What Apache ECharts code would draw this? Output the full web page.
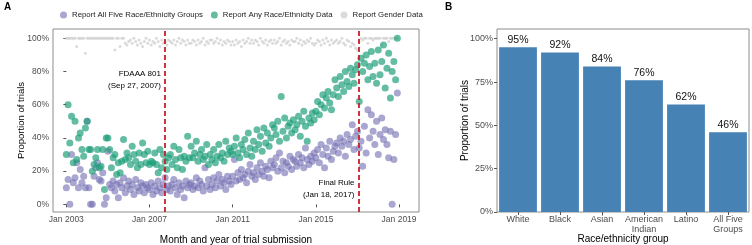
<!DOCTYPE html>
<html><head><meta charset="utf-8">
<script src="https://cdn.jsdelivr.net/npm/echarts@6/dist/echarts.min.js"></script>
<style>html,body{margin:0;padding:0;background:#fff}#c{width:752px;height:245px}</style>
</head><body><div id="c"></div>
<script>
// Panel A: monthly values, index 0 = Jan 2003 ... 191 = Dec 2018
const startYear = 2003;
const allFive = [
 10,15,0,30,13,16,25,10,21,13,17,10,
 50,10,0,0,17,22,25,15,14,19,0,4,
 32,12,10,14,8,12,4,13,10,16,7,11,
 14,9,12,6,15,10,8,13,11,7,12,10,
 9,13,6,11,8,14,10,7,12,16,9,11,
 8,12,15,10,6,13,9,11,4,14,10,12,
 13,9,11,16,10,14,12,8,22,11,15,9,
 12,16,10,14,18,11,15,13,9,17,14,12,
 17,27,14,19,15,21,16,18,13,20,24,17,
 19,15,22,18,25,20,17,23,21,16,26,22,
 24,28,20,31,22,26,19,25,23,29,21,27,
 26,23,30,25,28,22,34,27,24,29,26,31,
 28,33,25,36,30,22,34,29,38,27,32,35,
 37,31,40,35,38,29,42,36,39,48,33,41,
 44,34,38,23,47,31,57,40,54,44,36,50,
 30,42,52,39,45,36,28,44,0,27,42,67
];
const anyRace = [
 30,60,37,53,25,50,27,40,43,33,29,46,
 50,33,33,20,24,28,33,22,23,33,9,40,
 40,33,22,28,30,18,25,19,26,39,27,31,
 28,24,35,30,26,22,31,24,37,30,25,32,
 24,26,25,31,24,19,33,22,30,26,21,28,
 30,24,35,27,22,33,28,21,29,26,41,28,
 35,28,31,38,26,30,33,27,29,36,24,30,
 27,33,25,29,36,28,31,26,38,30,34,32,
 30,35,40,31,28,36,33,39,30,43,34,29,
 38,33,45,36,41,32,46,37,43,35,40,48,
 46,42,50,38,65,44,52,40,47,49,43,51,
 45,48,53,41,50,56,47,38,52,49,55,51,
 56,62,54,60,66,58,64,68,61,57,66,75,
 70,65,77,72,68,80,74,71,82,78,73,81,
 84,62,88,80,85,90,75,83,92,77,85,73,
 93,78,86,96,70,82,91,64,80,86,75,100
];
const gender = [
 100,100,100,100,100,100,95,100,100,100,100,91,
 100,100,100,100,100,100,100,100,100,100,100,100,
 100,100,100,100,93,100,100,95,100,100,97,96,
 98,99,97,100,98,96,99,97,95,98,100,97,
 99,96,98,97,100,98,95,99,97,98,96,99,
 98,97,99,96,98,100,97,99,98,96,99,97,
 97,99,98,96,99,97,98,100,96,98,97,99,
 99,97,98,100,97,99,96,98,97,99,98,96,
 98,96,99,97,98,95,99,97,98,100,97,99,
 97,99,98,96,100,98,97,99,96,98,99,97,
 99,97,98,100,96,98,99,97,98,96,99,98,
 98,100,97,99,96,98,97,99,98,100,97,96,
 97,99,98,96,99,97,100,98,96,99,97,98,
 99,97,98,100,97,96,99,98,95,97,96,94,
 93,98,100,99,100,100,97,100,100,99,100,100,
 100,100,96,100,100,100,98,100,100,100,100,100
];
const seriesNames = ['Report All Five Race/Ethnicity Groups','Report Any Race/Ethnicity Data','Report Gender Data'];
const xTickMonths = [0,48,96,144,192];
const yTicksA = [0,20,40,60,80,100];
// Policy events (month index, fractional)
const eventMonths = [56.9, 168.6];
const eventLabels = ['FDAAA 801\n(Sep 27, 2007)', 'Final Rule\n(Jan 18, 2017)'];
const eventLabelY = [75, 9.5];

// Panel B
const groups = ['White','Black','Asian','American\nIndian','Latino','All Five\nGroups'];
const groupPct = [95,92,84,76,62,46];
const yTicksB = [0,25,50,75,100];

const F = 'Liberation Sans, Arial, sans-serif';
const toXY = arr => arr.map((v,i)=>[i,v]);
const tickA = {color:'#4d4d4d', fontSize:8.5, fontFamily:F};
const tickB = {color:'#4d4d4d', fontSize:9, fontFamily:F};

const chart = echarts.init(document.getElementById('c'), null, {renderer:'canvas'});
chart.setOption({
  animation:false,
  textStyle:{fontFamily:F},
  title:[
    {text:'A', left:4, top:2, padding:0, textStyle:{fontSize:10, fontWeight:'bold', color:'#000', fontFamily:F}},
    {text:'B', left:445, top:2, padding:0, textStyle:{fontSize:10, fontWeight:'bold', color:'#000', fontFamily:F}}
  ],
  legend:{
    left:55, top:6, itemWidth:7, itemHeight:7, itemGap:8, icon:'circle',
    textStyle:{fontSize:7.8, color:'#222', fontFamily:F},
    data:seriesNames
  },
  grid:[
    {left:53, top:29, width:366, height:183, show:true, borderColor:'#8c8c8c', borderWidth:1, backgroundColor:'transparent', outerBoundsMode:'none', containLabel:false},
    {left:497, top:29, width:252, height:183, show:true, borderColor:'#8c8c8c', borderWidth:1, backgroundColor:'transparent', outerBoundsMode:'none', containLabel:false}
  ],
  xAxis:[
    {type:'value', gridIndex:0, min:-7.7, max:203.5,
     name:'Month and year of trial submission', nameLocation:'middle', nameGap:23, nameMoveOverlap:false,
     nameTextStyle:{fontSize:10, color:'#000', fontFamily:F},
     axisLine:{show:false}, splitLine:{show:false},
     axisTick:{show:true, length:3, lineStyle:{color:'#555'}, customValues:xTickMonths},
     axisLabel:{...tickA, margin:3, customValues:xTickMonths,
       formatter:v=>'Jan '+(startYear+Math.round(v/12))}},
    {type:'category', gridIndex:1, data:groups,
     name:'Race/ethnicity group', nameLocation:'middle', nameGap:22, nameMoveOverlap:false,
     nameTextStyle:{fontSize:10, color:'#000', fontFamily:F},
     axisLine:{show:false},
     axisTick:{show:true, alignWithLabel:true, length:3, lineStyle:{color:'#555'}},
     axisLabel:{...tickB, margin:3, lineHeight:10, interval:0}}
  ],
  yAxis:[
    {type:'value', gridIndex:0, min:-4.6, max:105.6,
     name:'Proportion of trials', nameLocation:'middle', nameGap:27, nameMoveOverlap:false,
     nameTextStyle:{fontSize:9.5, color:'#000', fontFamily:F},
     axisLine:{show:false}, splitLine:{show:false},
     axisTick:{show:true, length:3, lineStyle:{color:'#555'}, customValues:yTicksA},
     axisLabel:{...tickA, margin:4, customValues:yTicksA, formatter:v=>v+'%'}},
    {type:'value', gridIndex:1, min:0, max:105.6,
     name:'Proportion of trials', nameLocation:'middle', nameGap:27, nameMoveOverlap:false,
     nameTextStyle:{fontSize:10, color:'#000', fontFamily:F},
     axisLine:{show:false}, splitLine:{show:false},
     axisTick:{show:true, length:3, lineStyle:{color:'#555'}, customValues:yTicksB},
     axisLabel:{...tickB, margin:4, customValues:yTicksB, formatter:v=>v+'%'}}
  ],
  series:[
    {name:seriesNames[2], type:'scatter', xAxisIndex:0, yAxisIndex:0, data:toXY(gender),
     symbolSize:3, itemStyle:{color:'#cfcfcf', opacity:0.75}, z:1},
    {name:seriesNames[0], type:'scatter', xAxisIndex:0, yAxisIndex:0, data:toXY(allFive),
     symbolSize:7, itemStyle:{color:'#7570B3', opacity:0.62}, z:2},
    {name:seriesNames[1], type:'scatter', xAxisIndex:0, yAxisIndex:0, data:toXY(anyRace),
     symbolSize:7, itemStyle:{color:'#1B9E77', opacity:0.68}, z:3,
     markLine:{silent:true, symbol:'none', z:5,
       lineStyle:{color:'#C8202A', type:[5,3], width:1.8, opacity:1},
       label:{show:false},
       data:eventMonths.map(m=>({xAxis:m}))},
     markPoint:{silent:true, symbol:'circle', symbolSize:0,
       label:{show:true, position:'left', distance:4, color:'#000', fontSize:8, lineHeight:11.5, align:'right', fontFamily:F},
       data:eventMonths.map((m,i)=>({coord:[m,eventLabelY[i]], value:eventLabels[i],
         label:{formatter:eventLabels[i]}}))}},
    {type:'bar', xAxisIndex:1, yAxisIndex:1, data:groupPct, barCategoryGap:'10%',
     itemStyle:{color:'#4682B4'},
     label:{show:true, position:'top', distance:2, formatter:'{c}%', color:'#111', fontSize:10.5, fontFamily:F}}
  ]
});
</script></body></html>
